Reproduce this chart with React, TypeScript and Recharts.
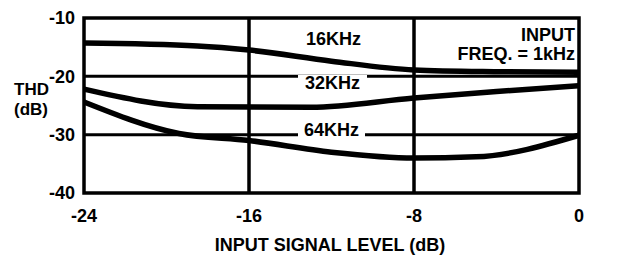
import React from 'react'
import {
  LineChart,
  Line,
  XAxis,
  YAxis,
  ReferenceLine,
  ReferenceArea
} from 'recharts'

const xTicks = [-24, -16, -8, 0]
const yTicks = [-10, -20, -30, -40]
const rightTickLabels = ['30%', '10%', '3%', '1%']

// THD (dB) vs input level (dB)
const thd16k = [
  { level: -24, thd: -14.3 },
  { level: -18.5, thd: -14.8 },
  { level: -16, thd: -15.5 },
  { level: -12, thd: -17.4 },
  { level: -8, thd: -18.9 },
  { level: -4, thd: -19.2 },
  { level: 0, thd: -19.3 }
]
const thd32k = [
  { level: -24, thd: -22.2 },
  { level: -18.5, thd: -25.2 },
  { level: -13, thd: -25.3 },
  { level: -8, thd: -23.7 },
  { level: -4, thd: -22.6 },
  { level: 0, thd: -21.6 }
]
const thd64k = [
  { level: -24, thd: -24.4 },
  { level: -19.4, thd: -29.8 },
  { level: -16, thd: -31 },
  { level: -12, thd: -33 },
  { level: -8, thd: -34 },
  { level: -5, thd: -33.8 },
  { level: 0, thd: -30.1 }
]

const font = '"Liberation Sans", Arial, sans-serif'

const txt: React.CSSProperties = {
  position: 'absolute',
  fontFamily: font,
  fontWeight: 'bold',
  fontSize: 18,
  lineHeight: '16px',
  color: '#000',
  whiteSpace: 'nowrap'
}

export default function App() {
  const tickStyle = { fill: '#000', fontFamily: font, fontWeight: 'bold', fontSize: 18 }
  return (
    <div style={{ position: 'absolute', left: 0, top: 0, width: 638, height: 260, background: '#fff' }}>
      <LineChart width={638} height={260} margin={{ top: 18, right: 0, bottom: 0, left: 0 }}>
        <XAxis
          type="number"
          dataKey="level"
          domain={[-24, 0]}
          ticks={xTicks}
          height={67}
          axisLine={false}
          tickLine={false}
          tickSize={0}
          tickMargin={16}
          tick={tickStyle}
        />
        <YAxis
          yAxisId="left"
          domain={[-40, -10]}
          ticks={yTicks}
          width={84}
          axisLine={false}
          tickLine={false}
          tickSize={0}
          tickMargin={9}
          tick={tickStyle}
        />
        <YAxis
          yAxisId="right"
          orientation="right"
          domain={[-40, -10]}
          ticks={yTicks}
          width={59}
          axisLine={false}
          tickLine={false}
          tickSize={0}
          tickMargin={13}
          tick={tickStyle}
          tickFormatter={(v: number) => rightTickLabels[yTicks.indexOf(v)]}
        />

        <ReferenceLine yAxisId="left" y={-20} stroke="#000" strokeWidth={3} />
        <ReferenceLine yAxisId="left" y={-30} stroke="#000" strokeWidth={3} />
        <ReferenceLine yAxisId="left" x={-16} stroke="#000" strokeWidth={3.5} />
        <ReferenceLine yAxisId="left" x={-8} stroke="#000" strokeWidth={3.5} />
        <ReferenceArea
          yAxisId="left"
          x1={-24}
          x2={0}
          y1={-40}
          y2={-10}
          fill="none"
          fillOpacity={0}
          stroke="#000"
          strokeWidth={3.5}
        />

        <Line yAxisId="left" data={thd16k} dataKey="thd" type="monotone" stroke="#000" strokeWidth={5.5} dot={false} isAnimationActive={false} />
        <Line yAxisId="left" data={thd32k} dataKey="thd" type="monotone" stroke="#000" strokeWidth={5.5} dot={false} isAnimationActive={false} />
        <Line yAxisId="left" data={thd64k} dataKey="thd" type="monotone" stroke="#000" strokeWidth={5.5} dot={false} isAnimationActive={false} />
      </LineChart>

      {/* y axis title */}
      <div style={{ ...txt, left: 14, top: 80, fontSize: 17, lineHeight: '20px' }}>
        THD<br />(dB)
      </div>

      <div style={{ ...txt, left: 306, top: 31 }}>16KHz</div>
      <div style={{ ...txt, left: 298, top: 75, width: 69, textAlign: 'center', background: '#fff' }}>32KHz</div>
      <div style={{ ...txt, left: 298, top: 122, width: 67, textAlign: 'center', background: '#fff' }}>64KHz</div>

      <div style={{ ...txt, right: 63, top: 27, textAlign: 'right' }}>INPUT</div>
      <div style={{ ...txt, right: 63, top: 46, textAlign: 'right' }}>FREQ. = 1kHz</div>

      <div style={{ ...txt, left: 130, width: 400, top: 237, textAlign: 'center' }}>INPUT SIGNAL LEVEL (dB)</div>
    </div>
  )
}
